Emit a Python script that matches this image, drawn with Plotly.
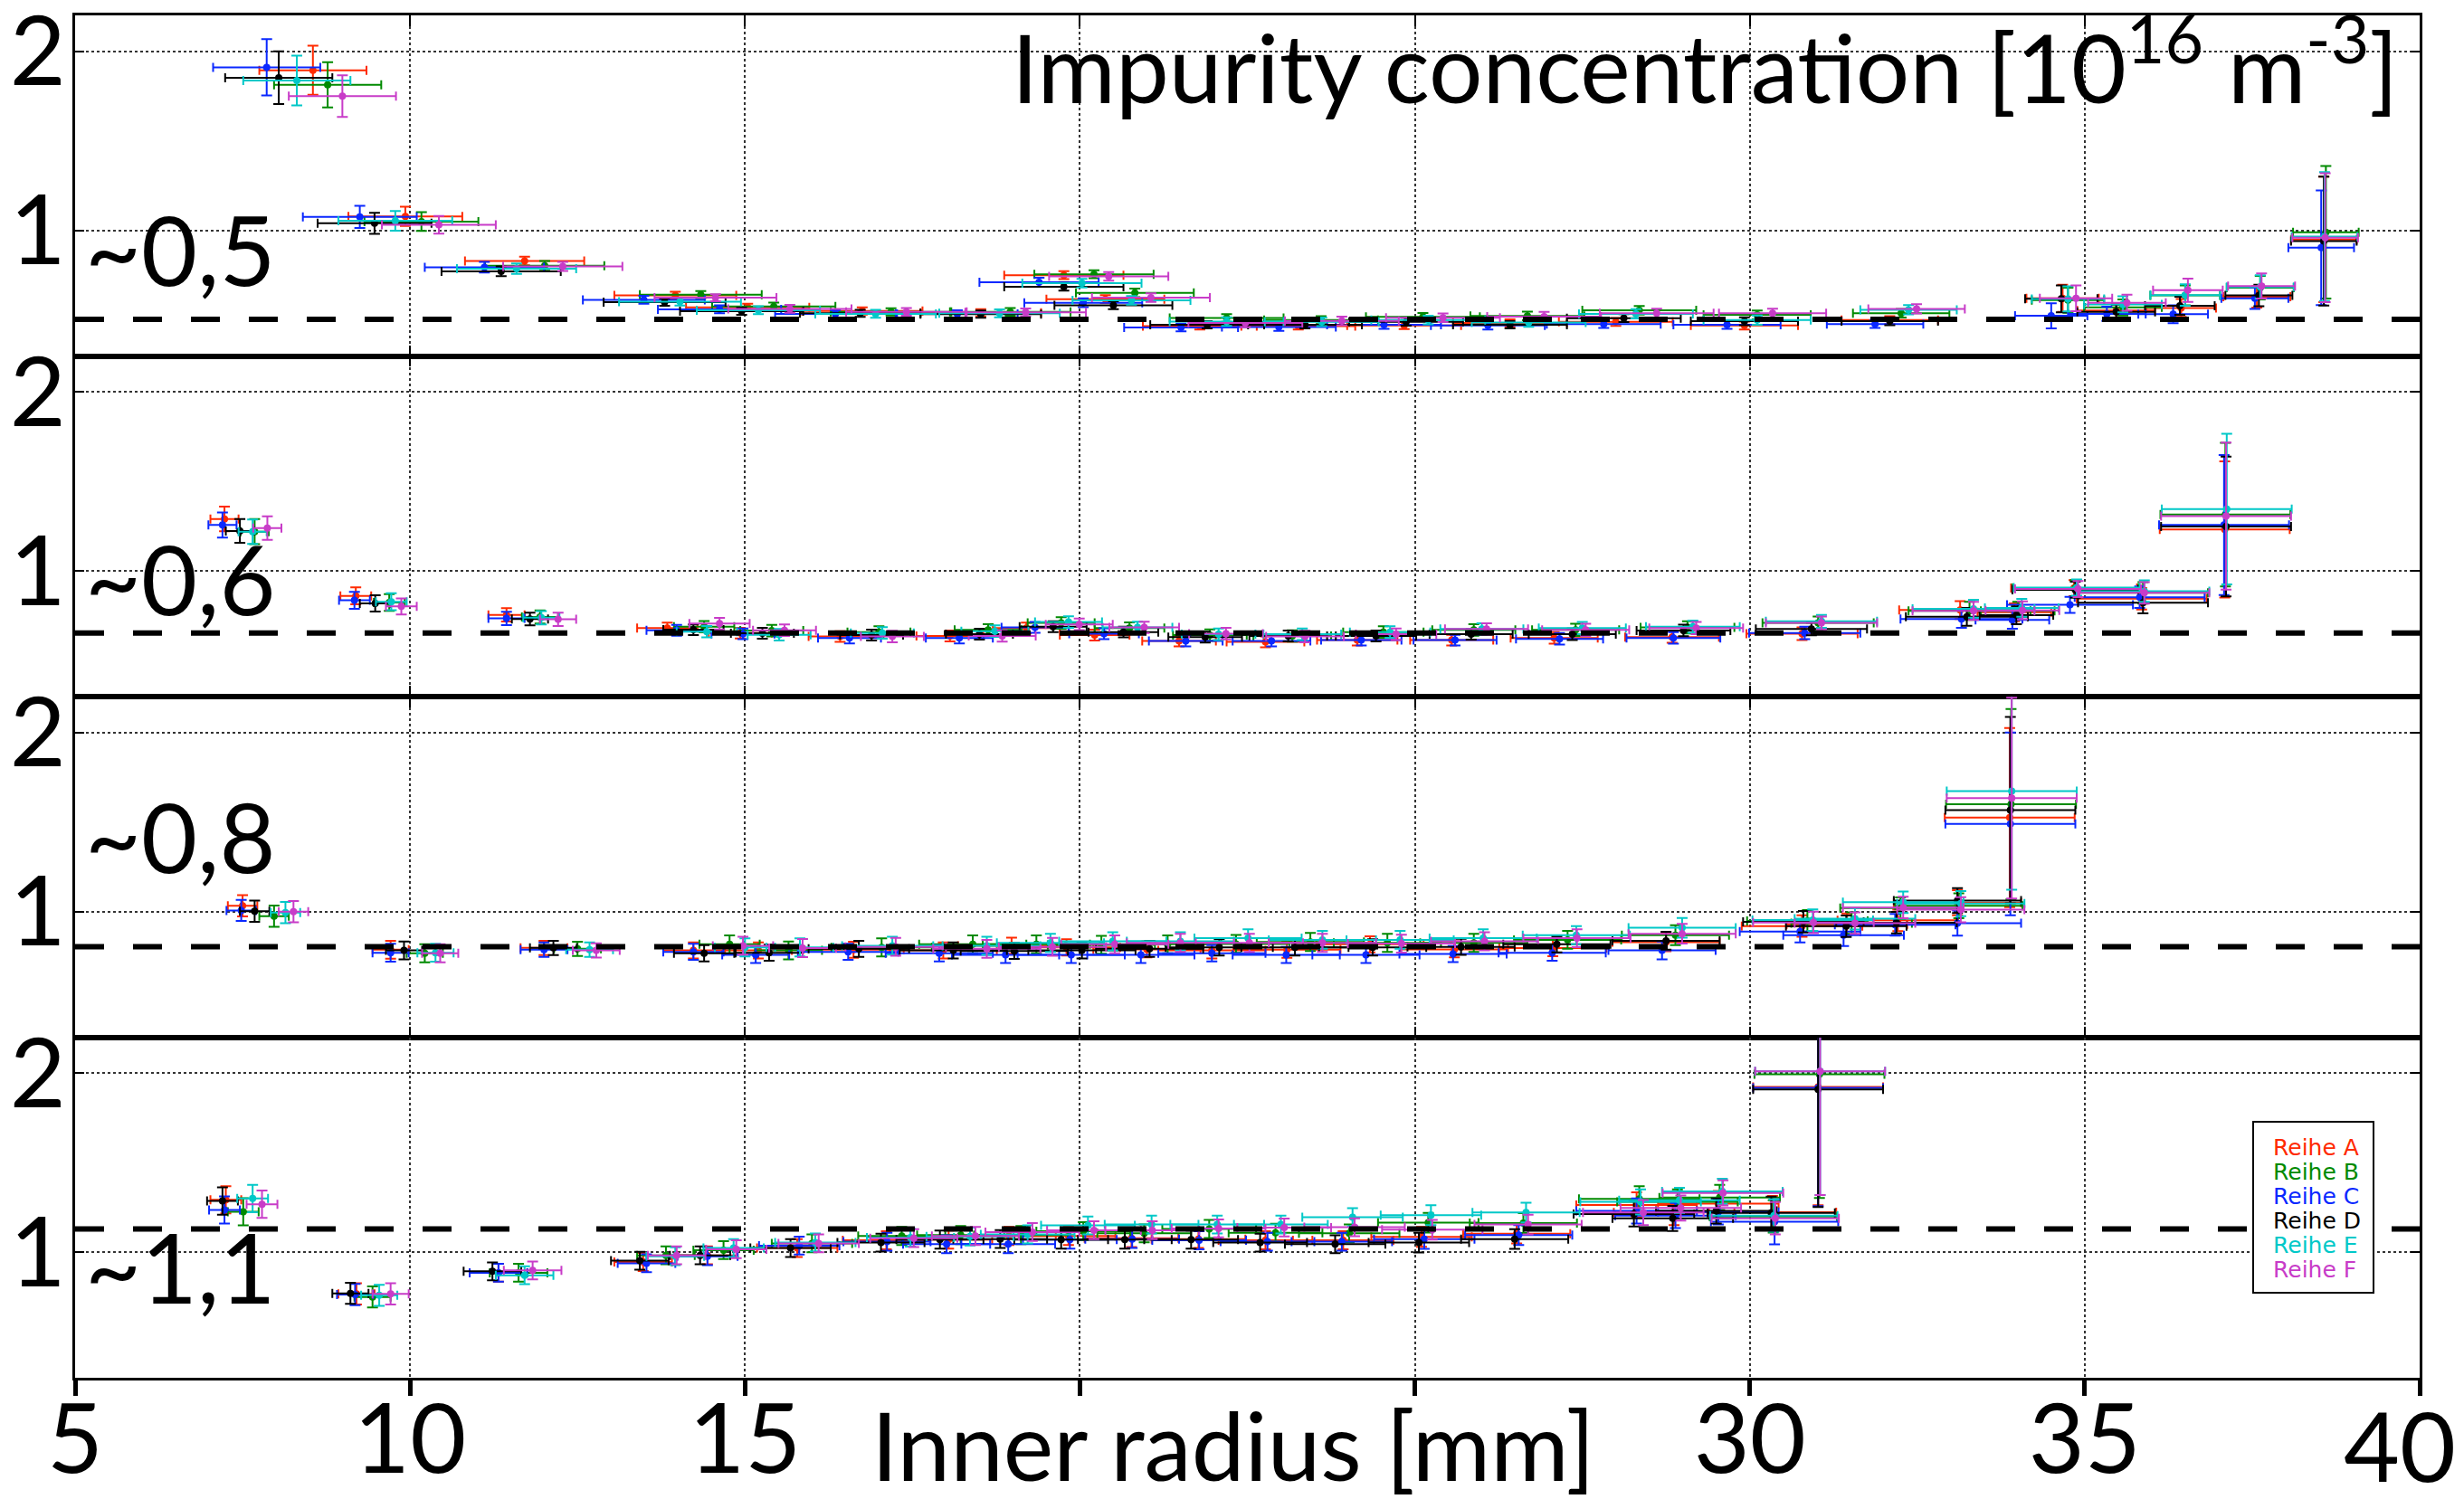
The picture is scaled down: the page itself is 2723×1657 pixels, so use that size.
import plotly.graph_objects as go
from plotly.subplots import make_subplots

# ---------------- data ----------------
SERIES = ["Reihe A", "Reihe B", "Reihe C", "Reihe D", "Reihe E", "Reihe F"]
COLORS = ["#ff2a00", "#008a00", "#0a28ff", "#000000", "#00c8c8", "#c83cc8"]
PANEL_LABELS = ["~0,5", "~0,6", "~0,8", "~1,1"]
REF_LEVELS = [0.505, 0.655, 0.805, 1.13]
X_TICKS = [5, 10, 15, 30, 35]
X_MINOR = [20, 25, 40]
X_LAST_LABEL = "40"
Y_TICKS = [1, 2]
TITLE = "Impurity concentration [10<sup>16</sup> m<sup>-3</sup>]"
X_TITLE = "Inner radius [mm]"

# Panel 1 (~0,5)
P1_X = [
    [8.55, 9.93, 11.71, 13.96, 15.04, 16.75, 18.52, 19.76, 20.38, 21.79, 23.26, 24.84, 26.42, 28.00, 29.92, 32.09, 34.67, 35.47, 36.44, 37.57, 38.57],
    [8.77, 10.17, 12.01, 14.34, 15.43, 17.18, 18.96, 20.21, 20.82, 22.19, 23.60, 25.12, 26.68, 28.35, 30.11, 32.26, 34.75, 35.57, 36.50, 37.62, 38.60],
    [7.86, 9.25, 11.11, 13.49, 14.62, 16.35, 18.17, 19.39, 20.05, 21.51, 22.97, 24.54, 26.09, 27.82, 29.66, 31.87, 34.50, 35.33, 36.32, 37.54, 38.53],
    [8.04, 9.47, 11.36, 13.80, 14.95, 16.72, 18.52, 19.76, 20.50, 21.90, 23.36, 24.87, 26.42, 28.12, 29.92, 32.09, 34.65, 35.47, 36.42, 37.60, 38.57],
    [8.31, 9.78, 11.59, 14.03, 15.20, 16.95, 18.80, 20.03, 20.77, 22.19, 23.61, 25.20, 26.70, 28.30, 30.11, 32.37, 34.75, 35.57, 36.50, 37.62, 38.58],
    [8.99, 10.43, 12.28, 14.56, 15.67, 17.41, 19.19, 20.43, 21.06, 22.47, 23.91, 25.42, 26.93, 28.61, 30.34, 32.49, 34.87, 35.63, 36.54, 37.64, 38.59],
]
P1_Y = [
    [1.894, 1.079, 0.830, 0.638, 0.571, 0.551, 0.541, 0.751, 0.617, 0.467, 0.467, 0.470, 0.484, 0.490, 0.470, 0.500, 0.622, 0.554, 0.568, 0.630, 0.950],
    [1.813, 1.050, 0.803, 0.642, 0.576, 0.546, 0.546, 0.756, 0.652, 0.512, 0.500, 0.518, 0.523, 0.555, 0.529, 0.538, 0.611, 0.571, 0.638, 0.681, 0.990],
    [1.910, 1.076, 0.795, 0.613, 0.560, 0.535, 0.535, 0.711, 0.597, 0.459, 0.462, 0.474, 0.470, 0.478, 0.474, 0.478, 0.524, 0.535, 0.533, 0.622, 0.904],
    [1.852, 1.040, 0.772, 0.600, 0.550, 0.538, 0.533, 0.686, 0.583, 0.474, 0.474, 0.491, 0.474, 0.511, 0.494, 0.494, 0.619, 0.546, 0.580, 0.638, 0.941],
    [1.837, 1.054, 0.787, 0.603, 0.555, 0.535, 0.538, 0.706, 0.610, 0.492, 0.491, 0.500, 0.487, 0.535, 0.500, 0.558, 0.618, 0.588, 0.640, 0.685, 0.966],
    [1.750, 1.032, 0.800, 0.625, 0.563, 0.546, 0.543, 0.744, 0.625, 0.484, 0.496, 0.513, 0.520, 0.538, 0.538, 0.563, 0.622, 0.597, 0.667, 0.690, 0.960],
]
P1_XERR = [0.80, 0.85, 0.89, 0.91, 0.92, 0.90, 0.90, 0.89, 0.88, 0.85, 0.85, 0.85, 0.85, 0.85, 0.80, 0.72, 0.54, 0.58, 0.52, 0.50, 0.49]
P1_YERR = [
    [0.137, 0.054, 0.024, 0.020, 0.020, 0.020, 0.020, 0.022, 0.022, 0.020, 0.020, 0.020, 0.020, 0.022, 0.022, 0.022, 0.076, 0.040, 0.050, 0.060, 0.350],
    [0.126, 0.052, 0.027, 0.020, 0.022, 0.020, 0.022, 0.022, 0.024, 0.022, 0.022, 0.022, 0.024, 0.024, 0.024, 0.024, 0.070, 0.045, 0.055, 0.065, 0.370],
    [0.157, 0.062, 0.030, 0.022, 0.022, 0.020, 0.020, 0.025, 0.025, 0.022, 0.022, 0.022, 0.022, 0.022, 0.022, 0.022, 0.070, 0.040, 0.050, 0.060, 0.320],
    [0.147, 0.059, 0.027, 0.020, 0.020, 0.020, 0.020, 0.022, 0.022, 0.020, 0.020, 0.022, 0.020, 0.022, 0.022, 0.022, 0.075, 0.040, 0.050, 0.060, 0.360],
    [0.139, 0.055, 0.029, 0.022, 0.022, 0.022, 0.022, 0.024, 0.024, 0.024, 0.024, 0.024, 0.024, 0.026, 0.026, 0.026, 0.070, 0.045, 0.060, 0.065, 0.360],
    [0.116, 0.049, 0.025, 0.020, 0.022, 0.022, 0.022, 0.024, 0.024, 0.024, 0.024, 0.024, 0.026, 0.026, 0.026, 0.026, 0.072, 0.045, 0.065, 0.070, 0.360],
]

# Panel 2 (~0,6)
P2_X = [
    [7.23, 9.19, 11.44, 13.84, 14.93, 16.42, 18.06, 19.20, 20.22, 21.48, 22.77, 24.14, 25.55, 27.08, 28.84, 30.78, 33.14, 33.95, 34.84, 35.85, 37.09],
    [7.68, 9.69, 11.94, 14.39, 15.40, 17.00, 18.63, 19.72, 20.74, 21.94, 23.17, 24.53, 25.88, 27.40, 29.07, 31.02, 33.28, 34.00, 34.86, 35.87, 37.10],
    [7.20, 9.17, 11.44, 13.98, 14.97, 16.56, 18.20, 19.33, 20.36, 21.58, 22.86, 24.20, 25.60, 27.16, 28.86, 30.82, 33.16, 33.92, 34.78, 35.82, 37.08],
    [7.46, 9.48, 11.79, 14.23, 15.26, 16.89, 18.50, 19.60, 20.65, 21.87, 23.11, 24.42, 25.84, 27.35, 29.01, 30.92, 33.24, 33.98, 34.86, 35.87, 37.11],
    [7.65, 9.72, 11.96, 14.43, 15.51, 17.05, 18.73, 19.83, 20.86, 22.07, 23.32, 24.63, 26.00, 27.50, 29.15, 31.07, 33.34, 34.06, 34.88, 35.89, 37.12],
    [7.87, 9.87, 12.21, 14.62, 15.59, 17.20, 18.84, 19.99, 20.96, 22.18, 23.36, 24.72, 26.07, 27.55, 29.20, 31.07, 33.34, 34.07, 34.90, 35.89, 37.11],
]
P2_Y = [
    [1.291, 0.862, 0.756, 0.682, 0.654, 0.635, 0.638, 0.682, 0.643, 0.610, 0.605, 0.615, 0.615, 0.627, 0.632, 0.651, 0.783, 0.770, 0.905, 0.846, 1.232],
    [1.220, 0.825, 0.744, 0.690, 0.668, 0.660, 0.672, 0.711, 0.682, 0.643, 0.638, 0.660, 0.672, 0.672, 0.686, 0.711, 0.778, 0.778, 0.905, 0.879, 1.315],
    [1.257, 0.837, 0.736, 0.670, 0.650, 0.627, 0.627, 0.686, 0.651, 0.610, 0.610, 0.615, 0.615, 0.622, 0.627, 0.655, 0.733, 0.728, 0.812, 0.854, 1.257],
    [1.224, 0.820, 0.733, 0.673, 0.653, 0.643, 0.648, 0.690, 0.660, 0.632, 0.638, 0.638, 0.648, 0.648, 0.669, 0.677, 0.745, 0.754, 0.896, 0.824, 1.249],
    [1.220, 0.829, 0.740, 0.662, 0.645, 0.655, 0.665, 0.716, 0.686, 0.648, 0.648, 0.660, 0.677, 0.682, 0.690, 0.720, 0.790, 0.795, 0.908, 0.888, 1.346],
    [1.240, 0.803, 0.731, 0.707, 0.670, 0.635, 0.638, 0.703, 0.686, 0.651, 0.635, 0.648, 0.677, 0.672, 0.682, 0.711, 0.778, 0.781, 0.900, 0.879, 1.307],
]
P2_XERR = [0.21, 0.23, 0.27, 0.45, 0.47, 0.47, 0.50, 0.50, 0.52, 0.55, 0.58, 0.60, 0.62, 0.65, 0.70, 0.83, 0.91, 0.55, 0.94, 0.97, 0.97]
P2_YERR = [
    [0.069, 0.047, 0.037, 0.030, 0.030, 0.030, 0.030, 0.030, 0.030, 0.030, 0.030, 0.030, 0.030, 0.032, 0.032, 0.035, 0.050, 0.050, 0.045, 0.060, 0.380],
    [0.070, 0.047, 0.037, 0.032, 0.032, 0.032, 0.032, 0.032, 0.032, 0.032, 0.032, 0.032, 0.032, 0.034, 0.034, 0.036, 0.050, 0.050, 0.045, 0.060, 0.400],
    [0.070, 0.047, 0.037, 0.030, 0.030, 0.030, 0.030, 0.030, 0.030, 0.030, 0.030, 0.030, 0.030, 0.032, 0.032, 0.035, 0.050, 0.050, 0.045, 0.060, 0.390],
    [0.066, 0.045, 0.035, 0.030, 0.030, 0.030, 0.030, 0.030, 0.030, 0.030, 0.030, 0.030, 0.030, 0.032, 0.032, 0.035, 0.050, 0.050, 0.045, 0.060, 0.390],
    [0.068, 0.047, 0.037, 0.032, 0.032, 0.032, 0.032, 0.032, 0.032, 0.032, 0.032, 0.032, 0.032, 0.034, 0.034, 0.036, 0.050, 0.050, 0.045, 0.060, 0.420],
    [0.066, 0.045, 0.037, 0.032, 0.032, 0.032, 0.032, 0.032, 0.032, 0.032, 0.032, 0.032, 0.032, 0.034, 0.034, 0.036, 0.050, 0.050, 0.045, 0.060, 0.410],
]

# Panel 3 (~0,8)
P3_X = [
    [7.50, 9.71, 12.00, 14.23, 15.20, 16.62, 17.96, 18.98, 19.80, 21.00, 21.97, 23.09, 24.33, 25.59, 27.06, 28.75, 30.78, 31.45, 32.21, 33.10, 33.88],
    [7.97, 10.22, 12.50, 14.77, 15.65, 17.04, 18.40, 19.35, 20.32, 21.31, 22.33, 23.44, 24.59, 25.88, 27.28, 28.89, 30.86, 31.52, 32.25, 33.12, 33.90],
    [7.48, 9.71, 12.00, 14.23, 15.16, 16.54, 17.90, 18.89, 19.87, 20.91, 21.97, 23.08, 24.27, 25.57, 27.05, 28.69, 30.75, 31.40, 32.17, 33.10, 33.89],
    [7.68, 9.91, 12.14, 14.39, 15.36, 16.70, 18.11, 19.02, 20.03, 21.04, 22.08, 23.21, 24.37, 25.69, 27.12, 28.75, 30.80, 31.44, 32.19, 33.10, 33.89],
    [8.14, 10.38, 12.68, 15.00, 15.82, 17.20, 18.61, 19.56, 20.49, 21.50, 22.51, 23.62, 24.78, 26.02, 27.41, 28.99, 30.94, 31.57, 32.29, 33.15, 33.91],
    [8.26, 10.45, 12.78, 14.97, 15.86, 17.25, 18.61, 19.59, 20.52, 21.50, 22.53, 23.62, 24.80, 26.04, 27.42, 28.99, 30.95, 31.57, 32.29, 33.15, 33.91],
]
P3_Y = [
    [1.033, 0.788, 0.798, 0.784, 0.784, 0.788, 0.784, 0.810, 0.801, 0.790, 0.784, 0.788, 0.818, 0.790, 0.797, 0.830, 0.920, 0.930, 0.952, 1.050, 1.525],
    [0.975, 0.768, 0.793, 0.818, 0.784, 0.801, 0.818, 0.818, 0.815, 0.818, 0.820, 0.831, 0.826, 0.826, 0.843, 0.869, 0.949, 0.936, 1.020, 1.033, 1.600],
    [1.007, 0.771, 0.788, 0.776, 0.759, 0.776, 0.768, 0.759, 0.759, 0.759, 0.768, 0.759, 0.759, 0.764, 0.771, 0.784, 0.889, 0.869, 0.927, 0.936, 1.490],
    [1.003, 0.784, 0.798, 0.768, 0.771, 0.793, 0.784, 0.781, 0.784, 0.793, 0.801, 0.801, 0.801, 0.804, 0.818, 0.838, 0.944, 0.919, 0.939, 1.062, 1.567],
    [0.995, 0.771, 0.788, 0.801, 0.801, 0.810, 0.810, 0.826, 0.835, 0.835, 0.852, 0.843, 0.843, 0.852, 0.869, 0.910, 0.953, 0.961, 1.053, 1.045, 1.673],
    [1.000, 0.768, 0.784, 0.810, 0.797, 0.804, 0.793, 0.804, 0.818, 0.826, 0.826, 0.826, 0.822, 0.835, 0.852, 0.877, 0.940, 0.936, 1.023, 1.011, 1.634],
]
P3_XERR = [0.22, 0.27, 0.35, 0.45, 0.50, 0.75, 0.80, 0.80, 0.80, 0.80, 0.80, 0.80, 0.80, 0.80, 0.80, 0.80, 0.90, 0.90, 0.90, 0.95, 0.97]
P3_YERR = [
    [0.059, 0.050, 0.040, 0.045, 0.045, 0.045, 0.045, 0.045, 0.045, 0.045, 0.045, 0.045, 0.045, 0.045, 0.045, 0.050, 0.060, 0.060, 0.060, 0.070, 0.500],
    [0.059, 0.050, 0.040, 0.050, 0.050, 0.050, 0.050, 0.050, 0.050, 0.050, 0.050, 0.050, 0.050, 0.050, 0.050, 0.055, 0.060, 0.060, 0.060, 0.070, 0.530],
    [0.059, 0.050, 0.040, 0.045, 0.045, 0.045, 0.045, 0.045, 0.045, 0.045, 0.045, 0.045, 0.045, 0.045, 0.045, 0.050, 0.060, 0.060, 0.060, 0.070, 0.510],
    [0.059, 0.050, 0.040, 0.045, 0.045, 0.045, 0.045, 0.045, 0.045, 0.045, 0.045, 0.045, 0.045, 0.045, 0.045, 0.050, 0.060, 0.060, 0.060, 0.070, 0.520],
    [0.059, 0.050, 0.040, 0.050, 0.050, 0.050, 0.050, 0.050, 0.050, 0.050, 0.050, 0.050, 0.050, 0.050, 0.050, 0.055, 0.060, 0.060, 0.060, 0.070, 0.550],
    [0.059, 0.050, 0.040, 0.050, 0.050, 0.050, 0.050, 0.050, 0.050, 0.050, 0.050, 0.050, 0.050, 0.050, 0.050, 0.055, 0.060, 0.060, 0.060, 0.070, 0.560],
]

# Panel 4 (~1,1)
P4_X = [
    [7.25, 9.20, 11.32, 13.48, 14.44, 15.78, 17.11, 18.04, 18.94, 19.83, 20.77, 21.77, 22.77, 23.93, 25.10, 26.52, 28.31, 28.87, 29.53, 30.34, 31.02],
    [7.51, 9.44, 11.62, 13.82, 14.68, 16.00, 17.34, 18.22, 19.12, 20.05, 20.96, 21.93, 22.92, 24.02, 25.20, 26.62, 28.35, 28.92, 29.55, 30.35, 31.04],
    [7.23, 9.18, 11.32, 13.53, 14.44, 15.81, 17.12, 18.01, 18.93, 19.85, 20.78, 21.78, 22.80, 23.91, 25.14, 26.55, 28.31, 28.89, 29.53, 30.37, 31.02],
    [7.20, 9.11, 11.23, 13.43, 14.33, 15.68, 17.03, 17.91, 18.81, 19.72, 20.67, 21.66, 22.69, 23.81, 25.06, 26.49, 28.27, 28.85, 29.50, 30.32, 31.02],
    [7.65, 9.54, 11.71, 13.96, 14.83, 16.05, 17.47, 18.36, 19.22, 20.12, 21.07, 22.05, 23.00, 24.07, 25.24, 26.66, 28.37, 28.95, 29.59, 30.36, 31.05],
    [7.79, 9.71, 11.83, 13.98, 14.87, 16.10, 17.52, 18.44, 19.29, 20.21, 21.08, 22.07, 23.05, 24.10, 25.26, 26.69, 28.41, 28.97, 29.60, 30.38, 31.05],
]
P4_Y = [
    [1.293, 0.768, 0.886, 0.946, 0.983, 1.024, 1.067, 1.071, 1.091, 1.091, 1.079, 1.074, 1.067, 1.067, 1.086, 1.104, 1.264, 1.222, 1.272, 1.224, 1.922],
    [1.226, 0.751, 0.886, 0.983, 1.012, 1.050, 1.091, 1.096, 1.096, 1.118, 1.106, 1.130, 1.109, 1.106, 1.165, 1.163, 1.298, 1.281, 1.306, 1.200, 1.993],
    [1.236, 0.764, 0.886, 0.939, 0.978, 1.037, 1.059, 1.045, 1.045, 1.071, 1.074, 1.067, 1.059, 1.059, 1.074, 1.096, 1.231, 1.205, 1.225, 1.170, 1.917],
    [1.286, 0.771, 0.894, 0.953, 0.983, 1.024, 1.054, 1.071, 1.074, 1.071, 1.071, 1.071, 1.054, 1.045, 1.054, 1.074, 1.214, 1.189, 1.231, 1.220, 1.908],
    [1.300, 0.760, 0.872, 0.978, 1.024, 1.055, 1.082, 1.088, 1.100, 1.150, 1.155, 1.155, 1.155, 1.196, 1.207, 1.222, 1.281, 1.290, 1.340, 1.205, 2.010],
    [1.268, 0.768, 0.899, 0.983, 1.017, 1.050, 1.079, 1.091, 1.113, 1.123, 1.123, 1.133, 1.138, 1.140, 1.126, 1.155, 1.222, 1.247, 1.331, 1.190, 2.010],
]
P4_XERR = [0.23, 0.27, 0.43, 0.43, 0.45, 0.60, 0.65, 0.65, 0.70, 0.70, 0.70, 0.70, 0.70, 0.75, 0.75, 0.80, 0.90, 0.90, 0.90, 0.95, 0.97]
P4_YERR = [
    [0.076, 0.059, 0.050, 0.050, 0.050, 0.050, 0.050, 0.050, 0.050, 0.050, 0.050, 0.050, 0.050, 0.050, 0.055, 0.055, 0.070, 0.070, 0.070, 0.090, 0.660],
    [0.076, 0.059, 0.050, 0.050, 0.050, 0.050, 0.050, 0.050, 0.050, 0.050, 0.050, 0.050, 0.050, 0.050, 0.055, 0.055, 0.070, 0.070, 0.070, 0.090, 0.690],
    [0.076, 0.059, 0.050, 0.050, 0.050, 0.050, 0.050, 0.050, 0.050, 0.050, 0.050, 0.050, 0.050, 0.050, 0.055, 0.055, 0.070, 0.070, 0.070, 0.126, 0.660],
    [0.076, 0.059, 0.050, 0.050, 0.050, 0.050, 0.050, 0.050, 0.050, 0.050, 0.050, 0.050, 0.050, 0.050, 0.055, 0.055, 0.070, 0.070, 0.070, 0.090, 0.655],
    [0.076, 0.059, 0.050, 0.050, 0.050, 0.050, 0.050, 0.050, 0.050, 0.050, 0.050, 0.050, 0.050, 0.050, 0.055, 0.055, 0.070, 0.070, 0.070, 0.090, 0.690],
    [0.076, 0.059, 0.050, 0.050, 0.050, 0.050, 0.050, 0.050, 0.050, 0.050, 0.050, 0.050, 0.050, 0.050, 0.055, 0.055, 0.070, 0.070, 0.070, 0.090, 0.690],
]

PANELS = [
    (P1_X, P1_Y, P1_XERR, P1_YERR),
    (P2_X, P2_Y, P2_XERR, P2_YERR),
    (P3_X, P3_Y, P3_XERR, P3_YERR),
    (P4_X, P4_Y, P4_XERR, P4_YERR),
]

# ---------------- figure ----------------
W, H = 2723, 1657
ML, MR, MT, MB = 83, 49, 17, 134
FONT = "Lato"
BIG = 107
GRID = dict(showgrid=True, gridcolor="#333333", gridwidth=1.5, griddash="dot")

fig = make_subplots(rows=4, cols=1, shared_xaxes=True, vertical_spacing=0)

for r, (px, py, pxe, pye) in enumerate(PANELS, start=1):
    for s, name in enumerate(SERIES):
        fig.add_trace(
            go.Scatter(
                x=px[s], y=py[s], mode="markers", name=name, showlegend=False,
                marker=dict(size=8, color=COLORS[s], line=dict(width=0)),
                error_x=dict(type="data", array=pxe, color=COLORS[s], thickness=2, width=5),
                error_y=dict(type="data", array=pye[s], color=COLORS[s], thickness=2, width=6),
            ),
            row=r, col=1,
        )
    fig.add_hline(y=REF_LEVELS[r - 1], row=r, col=1,
                  line=dict(color="black", width=6, dash="32px,32px"))

for r in range(1, 5):
    bottom = (r == 4)
    tick_kw = dict(
        ticks="outside" if bottom else "inside",
        ticklen=17 if bottom else 12, tickwidth=5 if bottom else 1.5,
        tickcolor="black",
    )
    fig.update_xaxes(
        range=[5, 40], tickmode="array", tickvals=X_TICKS,
        showticklabels=bottom,
        **tick_kw,
        minor=dict(tickmode="array", tickvals=X_MINOR, **tick_kw, **GRID),
        showline=True, linecolor="black", linewidth=2.5,
        mirror=True if bottom else "ticks",
        **GRID,
        zeroline=False, automargin=False,
        ticklabelstandoff=-43, ticklabeloverflow="allow",
        tickfont=dict(family=FONT, size=BIG, color="black"),
        row=r, col=1,
    )
    fig.update_yaxes(
        range=[0.3, 2.2], tickmode="array", tickvals=Y_TICKS,
        ticks="inside", ticklen=10, tickwidth=1.5, tickcolor="black",
        showline=True, linecolor="black", linewidth=2.5, mirror="ticks",
        **GRID,
        zeroline=False, automargin=False,
        ticklabelstandoff=-14, ticklabeloverflow="allow",
        tickfont=dict(family=FONT, size=BIG, color="black"),
        row=r, col=1,
    )

plot_w = W - ML - MR
plot_h = H - MT - MB


def px_x(p):
    return (p - ML) / plot_w


def px_y(p):
    return (H - MB - p) / plot_h


annotations = []
# title
annotations.append(dict(text=TITLE, xref="paper", yref="paper", x=px_x(2652), y=px_y(67),
                        xanchor="right", yanchor="middle", showarrow=False,
                        font=dict(family=FONT, size=105, color="black")))
# panel labels
for lab, cy in zip(PANEL_LABELS, [281, 644, 929, 1405]):
    annotations.append(dict(text=lab, xref="paper", yref="paper", x=px_x(92), y=px_y(cy - 6),
                            xanchor="left", yanchor="middle", showarrow=False,
                            font=dict(family=FONT, size=BIG, color="black")))
# x title
annotations.append(dict(text=X_TITLE, xref="paper", yref="paper", x=px_x(1363), y=px_y(1596),
                        xanchor="center", yanchor="middle", showarrow=False,
                        font=dict(family=FONT, size=105, color="black")))
# last x tick label, kept inside the page like the reference
annotations.append(dict(text=X_LAST_LABEL, xref="paper", yref="paper", x=px_x(2716), y=px_y(1596),
                        xanchor="right", yanchor="middle", showarrow=False,
                        font=dict(family=FONT, size=BIG, color="black")))
# legend (text-only, coloured)
for i, name in enumerate(SERIES):
    annotations.append(dict(text=name, xref="paper", yref="paper", x=px_x(2510),
                            y=px_y(1268 + i * 27.1), xanchor="left", yanchor="middle",
                            showarrow=False,
                            font=dict(family="DejaVu Sans", size=25, color=COLORS[i])))

fig.add_shape(type="rect", xref="paper", yref="paper",
              x0=px_x(2490), x1=px_x(2623), y0=px_y(1429), y1=px_y(1240),
              line=dict(color="black", width=2), fillcolor="white", layer="above")

fig.update_layout(
    width=W, height=H,
    margin=dict(l=ML, r=MR, t=MT, b=MB, pad=0, autoexpand=False),
    paper_bgcolor="white", plot_bgcolor="white",
    showlegend=False,
    annotations=annotations,
    font=dict(family=FONT, color="black"),
)

fig.write_html("out.html")
